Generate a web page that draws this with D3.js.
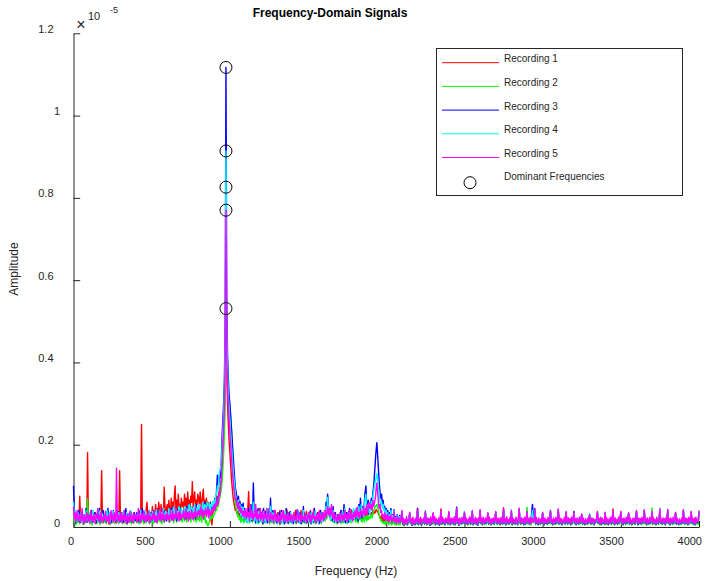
<!DOCTYPE html>
<html><head><meta charset="utf-8">
<script src="https://cdn.jsdelivr.net/npm/d3@7"></script>
<style>body{margin:0;background:#fff}svg{display:block}</style>
</head><body><svg id="c" width="707" height="581"></svg>
<script>
// Spectrum bins: one value every FREQ_STEP Hz starting at 0 Hz (0..4000 Hz); 20 bins per row = 100 Hz
const FREQ_STEP = 5;
// Amplitudes stored in units of 1e-8 (i.e. 0.001 x 10^-5)
const AMP_UNIT = 1e-8;

const rec1 = [
35,15,28,10,25,18,30,12,75,20,15,30,22,8,25,18,28,12,181,20,
25,12,30,18,8,22,28,15,35,10,20,28,15,25,12,30,137,22,10,25,
30,18,12,25,20,8,28,15,35,20,12,25,30,15,22,10,28,18,12,137,
20,30,12,25,18,35,10,22,28,15,30,12,25,20,35,15,28,10,22,30,
25,15,35,20,28,12,40,249,30,22,15,35,25,45,60,30,28,40,22,35,
30,50,25,40,20,55,35,45,28,60,40,30,55,25,45,35,97,50,30,45,
55,35,65,40,30,70,45,60,38,75,100,40,65,35,80,50,55,45,70,50,
60,45,80,50,70,40,85,55,65,45,75,60,110,50,70,85,45,65,55,80,
70,50,85,60,45,75,92,55,65,40,70,50,60,35,45,25,15,5,30,45,
50,40,60,55,75,60,85,90,100,110,140,170,210,260,360,826,380,300,250,210,
180,150,120,95,75,60,50,40,45,35,30,40,25,35,20,30,25,35,18,30,
25,35,20,45,86,30,25,35,20,40,28,15,35,22,40,18,30,25,45,20,
30,18,40,25,15,35,22,45,20,30,12,38,25,18,35,28,15,40,22,30,
20,35,15,28,40,18,30,12,25,38,20,30,15,42,25,18,35,22,12,30,
25,15,35,22,40,18,28,12,35,25,20,40,15,30,22,35,12,28,38,20,
18,30,25,40,15,35,22,28,45,18,30,12,35,25,20,40,28,15,35,25,
30,40,22,45,35,50,40,30,45,25,38,20,30,15,35,22,28,18,30,25,
22,35,15,40,25,18,30,45,20,35,25,15,38,28,20,42,30,22,35,28,
35,25,42,30,20,38,28,45,32,25,40,30,22,45,35,28,40,30,38,32,
30,35,28,40,32,38,35,42,40,38,32,28,25,20,28,15,22,12,20,15,
30,12,25,8,20,15,28,8,18,12,40,10,18,6,22,12,8,20,10,15,
36,8,15,5,12,10,18,6,12,14,33,10,14,5,18,8,12,6,15,10,
45,6,14,10,18,5,12,12,15,8,35,12,6,15,10,14,5,18,8,12,
33,10,18,6,14,12,8,15,5,12,44,8,18,10,14,6,15,12,14,8,
35,12,6,15,10,14,8,18,6,12,42,10,14,5,15,12,8,18,10,14,
34,8,15,12,6,14,10,18,8,12,37,6,12,10,18,8,14,5,15,12,
40,10,14,6,18,12,8,15,10,12,32,8,18,12,6,14,10,15,8,12,
36,12,8,15,10,14,6,18,12,8,47,10,14,6,18,10,12,8,15,12,
38,6,15,10,12,8,18,12,6,14,43,12,8,15,10,14,6,18,8,12,
36,10,14,8,18,6,20,25,15,14,40,8,18,10,6,15,12,8,14,10,
34,12,6,15,10,12,8,18,10,14,38,10,12,6,15,12,8,18,10,12,
42,8,15,10,14,6,12,12,18,8,35,12,8,15,10,14,6,18,10,12,
33,10,14,6,15,12,8,18,10,12,30,8,15,10,6,14,12,8,15,10,
28,12,8,15,10,14,6,12,12,15,36,10,14,8,18,6,15,10,12,8,
34,8,15,12,6,14,10,18,8,12,44,12,6,15,10,12,8,18,10,14,
36,10,14,6,15,12,8,18,10,12,33,8,15,12,6,14,10,15,8,12,
38,12,6,15,10,14,8,18,10,12,40,10,14,6,15,12,8,18,10,12,
36,8,15,10,12,6,18,12,8,14,42,10,12,8,15,10,14,6,18,12,
38,10,14,6,15,12,8,18,10,12,34,8,15,10,6,14,12,8,15,10,
40,12,8,15,10,14,6,18,10,12,36,10,14,8,15,6,18,10,12,8,
36];

const rec2 = [
30,12,20,5,25,10,15,30,8,18,12,25,6,20,15,10,28,12,68,15,
20,8,25,12,5,18,30,10,15,22,8,28,12,20,6,15,25,10,18,12,
15,25,8,20,40,12,18,6,25,15,10,22,30,8,18,12,25,15,8,20,
12,28,18,8,22,15,30,10,20,6,25,15,12,28,8,18,22,10,15,25,
18,10,25,15,8,22,30,12,20,15,8,25,18,10,28,15,22,8,20,12,
25,15,8,35,12,20,28,10,22,15,30,12,18,8,25,20,12,28,15,22,
30,18,12,25,35,15,20,28,10,22,30,18,12,35,20,25,15,30,18,12,
22,40,15,28,20,12,32,25,18,30,12,25,20,35,15,28,22,12,30,18,
25,15,30,20,12,35,22,18,28,10,15,5,3,8,15,25,20,30,22,28,
30,35,45,40,55,50,60,70,80,90,110,140,180,230,300,531,400,360,330,310,
290,270,240,200,150,110,80,60,45,35,25,30,18,25,12,20,15,22,10,18,
15,22,12,25,18,10,28,15,20,12,30,18,25,10,15,22,8,18,12,20,
20,12,25,8,18,15,10,22,12,28,15,8,20,12,25,10,15,8,22,12,
15,8,20,12,5,18,10,22,15,8,20,12,25,10,15,8,18,12,20,10,
12,20,10,25,15,8,18,12,22,10,15,20,8,25,12,18,10,15,8,20,
10,18,12,22,8,15,25,10,20,12,8,18,15,25,10,20,12,8,18,15,
18,25,15,30,20,35,40,28,22,15,30,20,12,25,10,18,12,8,15,20,
12,20,8,25,15,10,22,12,28,15,8,20,12,25,18,10,22,15,28,18,
20,12,25,15,10,22,18,30,15,12,25,20,12,28,22,15,30,18,25,20,
25,30,22,35,40,45,50,52,55,48,40,30,22,15,18,10,12,8,12,6,
18,10,15,6,12,8,20,5,12,8,35,6,10,4,12,8,5,10,6,12,
34,6,12,3,10,8,14,4,10,12,32,8,12,4,14,6,10,5,12,8,
38,5,12,8,14,3,10,10,12,6,34,10,5,12,8,12,4,14,6,10,
32,8,14,5,12,10,6,12,4,10,36,6,14,8,12,5,12,10,12,6,
34,10,5,12,8,12,6,14,5,10,42,8,12,4,14,10,6,14,8,12,
33,6,12,10,5,12,8,14,6,10,36,5,10,8,14,6,12,4,12,10,
38,8,12,5,14,10,6,12,8,10,33,6,14,10,5,12,8,12,6,10,
35,10,6,12,8,12,5,14,10,6,40,8,12,5,14,8,10,6,12,10,
36,5,12,8,10,6,14,10,5,12,42,10,6,12,8,12,5,14,6,10,
48,8,12,6,14,5,12,15,10,12,40,6,14,8,5,12,10,6,12,8,
33,10,5,12,8,10,6,14,8,12,36,8,10,5,12,10,6,14,8,10,
42,6,12,8,12,5,10,10,14,6,34,10,6,12,8,12,5,14,8,10,
32,8,12,5,12,10,6,14,8,10,30,6,12,8,5,12,10,6,12,8,
30,10,6,12,8,12,5,10,10,12,35,8,12,6,14,5,12,8,10,6,
34,6,12,10,5,12,8,14,6,10,38,10,5,12,8,10,6,14,8,12,
35,8,12,5,12,10,6,14,8,10,33,6,12,10,5,12,8,12,6,10,
38,10,5,12,8,12,6,14,8,10,40,8,12,5,12,10,6,14,8,10,
46,6,12,8,10,5,14,10,6,12,42,8,10,6,12,8,12,5,14,10,
36,8,12,5,12,10,6,14,8,10,34,6,12,8,5,12,10,6,12,8,
38,10,6,12,8,12,5,14,8,10,35,8,12,6,12,5,14,8,10,6,
38];

const rec3 = [
100,45,25,10,35,20,15,40,12,28,18,35,22,8,30,15,45,20,12,25,
30,15,22,40,12,28,18,35,20,10,32,25,15,45,22,12,30,18,40,25,
18,30,12,25,45,20,15,35,10,28,22,40,15,30,18,25,12,38,20,15,
28,15,35,20,12,30,25,45,18,10,32,22,15,38,25,12,28,20,35,15,
22,35,15,28,12,40,20,30,45,18,25,12,35,22,15,30,20,40,12,28,
35,18,25,40,15,30,22,12,38,28,20,45,15,32,25,18,40,22,30,15,
28,40,20,35,25,45,18,30,50,22,38,28,15,42,30,25,48,20,35,28,
38,25,45,30,20,50,35,28,55,22,40,30,48,25,35,42,20,55,38,30,
45,30,50,38,28,55,42,35,60,30,48,40,55,35,45,60,38,50,42,55,
60,70,55,90,126,95,110,135,120,160,220,260,300,360,500,1117,560,420,360,320,
300,270,240,210,180,150,120,95,85,70,50,75,40,62,30,55,25,58,20,45,
20,35,12,28,45,18,30,55,15,25,107,40,22,10,30,18,45,12,28,20,
15,30,8,45,25,12,38,20,10,35,18,28,70,15,22,40,12,30,18,25,
10,28,15,35,8,22,40,12,30,18,8,25,45,15,28,10,20,38,12,25,
18,8,30,15,25,10,42,20,12,35,18,8,28,15,50,12,22,30,10,25,
12,28,15,38,8,22,30,12,45,18,10,28,15,35,8,25,40,15,22,30,
18,35,25,60,40,80,55,30,45,20,38,15,50,25,12,35,18,28,10,30,
15,25,40,12,30,18,55,20,10,35,15,28,12,45,22,30,15,38,20,28,
35,20,45,25,15,55,30,70,40,22,50,35,60,85,100,55,40,65,30,50,
55,70,60,85,100,130,160,185,205,175,140,110,85,70,80,55,65,45,50,35,
45,28,40,20,35,25,45,18,30,22,42,15,25,10,30,18,12,28,15,22,
37,8,18,4,15,10,20,6,12,16,34,10,15,4,20,8,14,6,18,10,
45,6,16,10,20,4,15,12,18,8,35,12,6,18,10,16,4,20,8,14,
32,10,20,6,16,12,8,18,4,15,37,8,20,10,15,6,18,12,16,8,
35,12,6,18,10,16,8,20,6,14,48,10,16,4,18,12,8,20,10,15,
33,8,18,12,6,16,10,20,8,15,37,6,15,10,20,8,16,4,18,12,
39,10,16,6,20,12,8,18,10,15,33,8,20,12,6,16,10,18,8,14,
35,12,8,18,10,16,6,20,12,8,41,10,16,6,20,10,15,8,18,12,
37,6,18,10,15,8,20,12,6,16,43,12,8,18,10,16,6,20,8,15,
35,10,16,8,20,12,35,55,30,18,45,8,20,10,6,18,12,8,16,10,
33,12,6,18,10,15,8,20,10,16,37,10,15,6,18,12,8,20,10,15,
41,8,18,10,16,6,15,12,20,8,35,12,8,18,10,16,6,20,10,14,
38,10,16,6,18,12,8,20,10,15,30,8,18,10,6,16,12,8,18,10,
28,12,8,18,10,16,6,15,12,18,35,10,16,8,20,6,18,10,15,8,
33,8,18,12,6,16,10,20,8,15,37,12,6,18,10,15,8,20,10,16,
35,10,16,6,18,12,8,20,10,15,32,8,18,12,6,16,10,18,8,15,
37,12,6,18,10,16,8,20,10,14,39,10,16,6,18,12,8,20,10,15,
35,8,18,10,15,6,20,12,8,16,41,10,15,8,18,10,16,6,20,12,
42,10,16,6,18,12,8,20,10,15,33,8,18,10,6,16,12,8,18,10,
39,12,8,18,10,16,6,20,10,15,35,10,16,8,18,6,20,10,15,12,
37];

const rec4 = [
60,30,18,40,12,25,35,15,28,20,38,12,25,30,15,22,40,18,28,12,
25,35,15,28,20,40,12,30,22,18,35,25,12,28,40,15,22,32,18,25,
30,18,28,40,15,25,35,12,30,22,18,38,25,15,30,20,28,12,35,22,
20,32,15,28,40,18,25,12,35,22,30,15,28,40,18,25,32,15,22,30,
28,15,35,22,30,12,40,25,18,32,28,15,38,22,30,18,25,40,15,30,
22,38,28,15,35,25,42,18,30,22,40,28,15,35,25,45,20,30,38,22,
35,25,45,30,20,40,32,25,48,35,22,42,30,38,25,50,35,28,45,30,
40,30,50,35,25,45,38,30,55,40,28,50,35,45,30,55,40,32,48,38,
45,55,40,50,35,60,45,40,55,48,42,60,50,45,58,40,55,50,62,48,
65,55,75,80,100,90,120,135,146,150,190,230,270,330,450,914,480,380,320,290,
260,230,200,170,145,120,100,80,72,60,45,65,35,55,28,50,22,48,20,40,
25,15,30,10,35,20,12,40,18,28,60,30,15,35,22,10,28,38,15,22,
28,12,22,38,15,30,10,25,45,18,12,30,50,20,15,35,25,10,28,18,
20,10,30,18,25,12,35,20,8,28,15,38,20,10,30,15,25,12,35,18,
10,25,35,15,22,12,30,18,38,10,25,15,30,20,40,15,28,10,22,30,
22,12,30,20,35,10,28,15,25,38,12,22,30,10,25,35,15,28,12,20,
25,38,20,50,30,72,45,25,35,18,30,22,40,15,28,12,30,18,25,15,
20,32,12,28,38,15,25,45,18,30,10,35,22,15,40,25,12,30,45,20,
30,45,25,40,20,50,35,28,55,30,45,25,50,70,80,45,35,55,40,30,
50,62,55,75,88,100,110,120,130,115,95,78,62,55,62,45,55,40,45,30,
40,25,35,18,30,22,40,15,28,20,40,12,22,8,28,15,10,25,12,20,
38,10,20,6,16,12,22,8,14,18,33,12,18,6,22,10,16,8,20,12,
39,8,18,12,22,6,16,14,20,10,40,14,8,20,12,18,6,22,10,16,
33,12,22,8,18,14,10,20,6,16,37,10,22,12,16,8,20,14,18,10,
35,14,8,20,12,18,10,22,8,14,42,12,18,6,20,14,10,22,12,16,
38,10,20,14,8,18,12,22,10,16,37,8,16,12,22,10,18,6,20,14,
39,12,18,8,22,14,10,20,12,16,33,10,22,14,8,18,12,20,10,14,
35,14,10,20,12,18,8,22,14,10,41,12,18,8,22,12,16,10,20,14,
42,8,20,12,16,10,22,14,8,18,43,14,10,20,12,18,8,22,10,16,
35,12,18,10,22,8,25,40,20,18,40,10,22,12,8,20,14,10,18,12,
34,14,8,20,12,16,10,22,12,18,42,12,16,8,20,14,10,22,12,16,
41,10,20,12,18,8,16,14,22,10,35,14,10,20,12,18,8,22,12,14,
33,12,18,8,20,14,10,22,12,16,30,10,20,12,8,18,14,10,20,12,
33,14,10,20,12,18,8,16,14,20,36,12,18,10,22,8,20,12,16,10,
34,10,20,14,8,18,12,22,10,16,38,14,8,20,12,16,10,22,12,18,
36,12,18,8,20,14,10,22,12,16,33,10,20,14,8,18,12,20,10,16,
38,14,8,20,12,18,10,22,12,14,40,12,18,8,20,14,10,22,12,16,
36,10,20,12,16,8,22,14,10,18,46,12,16,10,20,12,18,8,22,14,
38,12,18,8,20,14,10,22,12,16,34,10,20,12,8,18,14,10,20,12,
40,14,10,20,12,18,8,22,12,16,36,12,18,10,20,8,22,12,16,14,
38];

const rec5 = [
50,20,35,12,28,40,15,22,30,10,25,45,18,8,30,20,12,35,25,15,
28,10,40,18,25,12,32,20,8,30,22,45,15,28,10,35,18,24,12,30,
20,38,12,25,15,30,8,22,40,18,28,12,35,20,10,143,25,15,30,12,
22,35,10,28,18,40,15,25,8,32,20,12,38,22,15,28,10,35,18,25,
30,12,22,45,15,28,10,35,20,18,40,12,25,30,15,22,38,10,28,20,
15,32,20,40,12,28,22,10,35,25,18,45,15,30,20,38,12,25,30,18,
35,20,28,12,42,25,18,38,15,30,22,45,20,28,35,15,40,25,18,32,
25,40,18,30,45,22,35,15,38,28,20,42,30,18,35,25,48,20,30,38,
40,25,35,50,28,42,20,38,30,45,25,35,50,22,40,30,28,45,35,48,
55,40,60,50,70,55,80,75,100,120,160,200,240,300,400,770,420,340,290,260,
230,200,170,140,115,95,80,65,70,55,45,60,40,50,35,45,28,38,25,42,
30,20,45,25,35,15,50,28,22,40,18,32,25,55,20,38,15,30,22,45,
18,35,25,12,40,22,30,15,28,45,20,12,35,25,18,30,10,28,40,15,
25,12,30,20,8,35,18,25,40,12,22,30,15,28,10,35,20,15,30,22,
12,28,35,18,25,10,30,40,15,22,28,12,35,20,25,15,32,18,10,28,
22,35,15,28,12,30,20,40,18,25,10,32,22,15,38,25,12,30,20,35,
15,28,40,22,35,50,30,45,25,38,55,28,20,35,15,30,22,12,28,18,
30,12,25,35,18,28,15,40,22,30,12,35,25,18,42,20,28,15,35,25,
40,22,30,48,25,35,20,45,30,38,25,50,35,28,42,55,30,45,60,50,
45,55,40,65,50,60,70,90,107,85,60,45,55,35,40,25,30,20,35,18,
28,15,32,12,25,18,30,10,22,15,38,12,20,8,25,15,10,22,12,18,
40,10,22,5,18,12,25,8,15,20,36,12,20,6,24,10,18,8,22,14,
42,8,20,12,24,6,18,15,22,10,38,15,8,22,12,20,6,25,10,18,
35,12,25,8,20,15,10,22,6,18,40,10,24,12,18,8,22,14,20,10,
38,15,8,22,12,20,10,25,8,16,45,12,20,6,22,14,10,24,12,18,
36,10,22,14,8,20,12,25,10,18,40,8,18,12,24,10,20,6,22,15,
42,12,20,8,24,14,10,22,12,18,35,10,24,15,8,20,12,22,10,16,
38,14,10,22,12,20,8,24,15,10,44,12,20,8,25,12,18,10,22,14,
40,8,22,12,18,10,24,14,8,20,46,15,10,22,12,20,8,24,10,18,
38,12,20,10,24,8,22,15,12,20,42,10,24,12,8,22,15,10,20,12,
36,14,8,22,12,18,10,24,12,20,40,12,18,8,22,15,10,24,12,18,
44,10,22,12,20,8,18,14,24,10,38,15,10,22,12,20,8,24,12,16,
35,12,20,8,22,14,10,24,12,18,32,10,22,12,8,20,14,10,22,12,
30,14,10,22,12,20,8,18,15,22,38,12,20,10,24,8,22,12,18,10,
36,10,22,14,8,20,12,24,10,18,40,14,8,22,12,18,10,24,12,20,
38,12,20,8,22,15,10,24,12,18,35,10,22,14,8,20,12,22,10,18,
40,14,8,22,12,20,10,24,12,16,42,12,20,8,22,14,10,24,12,18,
38,10,22,12,18,8,24,14,10,20,44,12,18,10,22,12,20,8,24,14,
40,12,20,8,22,14,10,24,12,18,36,10,22,12,8,20,14,10,22,12,
42,14,10,22,12,20,8,24,12,18,38,12,20,10,22,8,24,12,18,14,
40];

const seriesNames = ["Recording 1", "Recording 2", "Recording 3", "Recording 4", "Recording 5"];
const seriesColors = ["#ff0000", "#00ff00", "#0000ff", "#00ffff", "#ff00ff"];
const xTickValues = [0, 500, 1000, 1500, 2000, 2500, 3000, 3500, 4000];
const yTickValues = [0, 0.2, 0.4, 0.6, 0.8, 1.0, 1.2];      // x 10^-5
const yTickLabels = ["0", "0.2", "0.4", "0.6", "0.8", "1", "1.2"];

const series = [rec1, rec2, rec3, rec4, rec5];
const FONT = "'Liberation Sans', Arial, Helvetica, sans-serif";
const INK = "#262626";

const svg = d3.select("#c").style("font-family", FONT);
const M = {left: 73.5, right: 699, top: 33.3, bottom: 527};
const x = d3.scaleLinear().domain([0, 4000]).range([M.left, M.right]);
const y = d3.scaleLinear().domain([0, 1.2e-5]).range([M.bottom, M.top]);

// axes
const gx = svg.append("g").attr("transform", `translate(0,${M.bottom})`)
  .call(d3.axisBottom(x).tickValues(xTickValues).tickSizeInner(-6).tickSizeOuter(0)
        .tickPadding(10).tickFormat(d3.format("d")));
gx.selectAll("text").attr("text-anchor", "end").attr("dx", d => d === 0 ? 0 : 2.5);

const gy = svg.append("g").attr("transform", `translate(${M.left},0)`)
  .call(d3.axisLeft(y).tickValues(yTickValues.map(v => v * 1e-5)).tickSizeInner(-6.7)
        .tickSizeOuter(0).tickPadding(20).tickFormat((d, i) => yTickLabels[i]));
gy.selectAll("text").attr("dy", null).attr("y", -1)
  .attr("dx", (d, i) => yTickLabels[i].length === 1 ? 6.5 : 0);

[gx, gy].forEach(g => {
  g.attr("font-family", FONT).attr("font-size", 11);
  g.selectAll("path,line").attr("stroke", INK);
  g.selectAll("text").attr("fill", INK);
});

// data lines
const line = d3.line().x((d, i) => x(i * FREQ_STEP)).y(d => y(d * AMP_UNIT));
svg.append("g").selectAll("path").data(series).join("path")
  .attr("d", d => line(d)).attr("fill", "none")
  .attr("stroke", (d, i) => seriesColors[i]).attr("stroke-width", 1.4)
  .attr("stroke-linejoin", "round");

// dominant frequency markers (max of each recording)
const peaks = series.map(s => {
  const idx = d3.maxIndex(s);
  return {f: idx * FREQ_STEP, a: s[idx] * AMP_UNIT};
});
svg.append("g").selectAll("circle").data(peaks).join("circle")
  .attr("cx", d => x(d.f)).attr("cy", d => y(d.a)).attr("r", 6)
  .attr("fill", "none").attr("stroke", "#000").attr("stroke-width", 1);

// exponent label
svg.append("text").attr("x", 81).attr("y", 29.5).attr("text-anchor", "middle")
  .attr("font-size", 16).attr("fill", INK).text("\u00d7");
svg.append("text").attr("x", 88).attr("y", 20).attr("font-size", 11).attr("fill", INK).text("10");
svg.append("text").attr("x", 110).attr("y", 12.5).attr("font-size", 9).attr("fill", INK).text("-5");

// title & axis labels
svg.append("text").attr("x", 330).attr("y", 17).attr("text-anchor", "middle")
  .attr("font-size", 12).attr("font-weight", "bold").attr("fill", "#000").text("Frequency-Domain Signals");
svg.append("text").attr("x", 356).attr("y", 575).attr("text-anchor", "middle")
  .attr("font-size", 12).attr("fill", INK).text("Frequency (Hz)");
svg.append("text").attr("transform", "translate(18,269) rotate(-90)").attr("text-anchor", "middle")
  .attr("font-size", 12).attr("fill", INK).text("Amplitude");

// legend
const lg = svg.append("g");
lg.append("rect").attr("x", 436.5).attr("y", 48.5).attr("width", 246).attr("height", 147)
  .attr("fill", "#fff").attr("stroke", INK).attr("stroke-width", 1);
const rowY = [62.7, 86.4, 110.1, 133.8, 157.5];
seriesNames.forEach((n, i) => {
  lg.append("line").attr("x1", 442).attr("x2", 499).attr("y1", rowY[i]).attr("y2", rowY[i])
    .attr("stroke", seriesColors[i]).attr("stroke-width", 1);
  lg.append("text").attr("x", 504).attr("y", rowY[i] - 0.5).attr("font-size", 10).attr("fill", INK).text(n);
});
lg.append("circle").attr("cx", 470).attr("cy", 182.7).attr("r", 6)
  .attr("fill", "none").attr("stroke", "#000").attr("stroke-width", 1);
lg.append("text").attr("x", 504).attr("y", 179.5).attr("font-size", 10).attr("fill", INK).text("Dominant Frequencies");
</script></body></html>
